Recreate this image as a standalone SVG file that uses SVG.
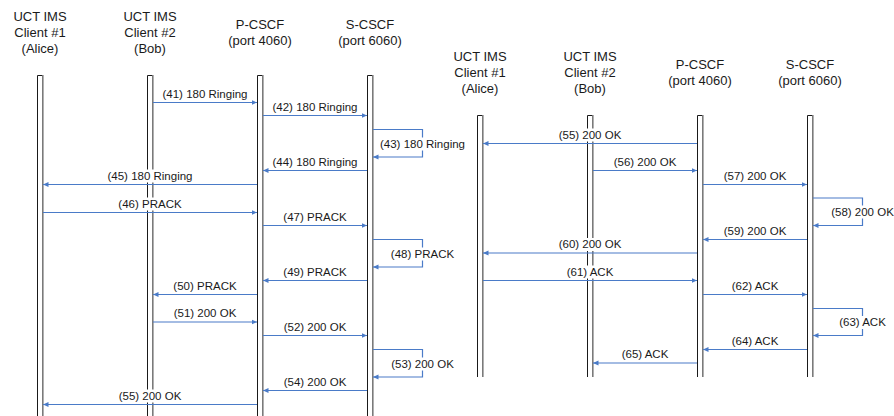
<svg xmlns="http://www.w3.org/2000/svg" width="894" height="416" viewBox="0 0 894 416">
<style>
.hdr{font-family:"Liberation Sans",Arial,sans-serif;font-size:13px;fill:#1a1a1a;text-anchor:middle}
.lbl{font-family:"Liberation Sans",Arial,sans-serif;font-size:11.5px;fill:#1a1a1a;text-anchor:middle}
.lb{fill:#fff;stroke:none}
.bar{fill:#fff;stroke:none}
.edgeL{fill:none;stroke:#1a1a1a;stroke-width:1}
.edgeR{fill:none;stroke:#7a7a7a;stroke-width:1.6}
.msg{fill:none;stroke:#4a7bc8;stroke-width:1.2;marker-end:url(#ah)}
</style>
<defs>
<marker id="ah" markerUnits="userSpaceOnUse" markerWidth="7" markerHeight="7" refX="5.5" refY="3" orient="auto">
<path d="M0,0.6 L5.5,3 L0,5.4 z" fill="#4a7bc8"/>
</marker>
</defs>
<rect width="894" height="416" fill="#fff"/>

<!-- Left diagram lifelines -->
<g id="L-alice">
<text class="hdr" x="40" y="21">UCT IMS</text>
<text class="hdr" x="40" y="37">Client #1</text>
<text class="hdr" x="40" y="53">(Alice)</text>
<rect class="bar" x="37.5" y="75.5" width="5.5" height="345"/>
<path class="edgeL" d="M37.5,420 V75.5 H42.8"/>
<line class="edgeR" x1="42.8" y1="75" x2="42.8" y2="420"/>
</g>
<g id="L-bob">
<text class="hdr" x="150" y="21">UCT IMS</text>
<text class="hdr" x="150" y="37">Client #2</text>
<text class="hdr" x="150" y="53">(Bob)</text>
<rect class="bar" x="147.5" y="75.5" width="5.5" height="345"/>
<path class="edgeL" d="M147.5,420 V75.5 H152.8"/>
<line class="edgeR" x1="152.8" y1="75" x2="152.8" y2="420"/>
</g>
<g id="L-pcscf">
<text class="hdr" x="260" y="29">P-CSCF</text>
<text class="hdr" x="260" y="45">(port 4060)</text>
<rect class="bar" x="257.5" y="75.5" width="5.5" height="345"/>
<path class="edgeL" d="M257.5,420 V75.5 H262.8"/>
<line class="edgeR" x1="262.8" y1="75" x2="262.8" y2="420"/>
</g>
<g id="L-scscf">
<text class="hdr" x="370" y="29">S-CSCF</text>
<text class="hdr" x="370" y="45">(port 6060)</text>
<rect class="bar" x="367.5" y="75.5" width="5.5" height="345"/>
<path class="edgeL" d="M367.5,420 V75.5 H372.8"/>
<line class="edgeR" x1="372.8" y1="75" x2="372.8" y2="420"/>
</g>

<!-- Right diagram lifelines -->
<g id="R-alice">
<text class="hdr" x="480" y="61">UCT IMS</text>
<text class="hdr" x="480" y="77">Client #1</text>
<text class="hdr" x="480" y="93">(Alice)</text>
<rect class="bar" x="477.5" y="115.5" width="5.5" height="261.5"/>
<path class="edgeL" d="M477.5,377 V115.5 H482.8"/>
<line class="edgeR" x1="482.8" y1="115" x2="482.8" y2="377"/>
</g>
<g id="R-bob">
<text class="hdr" x="590" y="61">UCT IMS</text>
<text class="hdr" x="590" y="77">Client #2</text>
<text class="hdr" x="590" y="93">(Bob)</text>
<rect class="bar" x="587.5" y="115.5" width="5.5" height="261.5"/>
<path class="edgeL" d="M587.5,377 V115.5 H592.8"/>
<line class="edgeR" x1="592.8" y1="115" x2="592.8" y2="377"/>
</g>
<g id="R-pcscf">
<text class="hdr" x="700" y="69">P-CSCF</text>
<text class="hdr" x="700" y="85">(port 4060)</text>
<rect class="bar" x="697.5" y="115.5" width="5.5" height="261.5"/>
<path class="edgeL" d="M697.5,377 V115.5 H702.8"/>
<line class="edgeR" x1="702.8" y1="115" x2="702.8" y2="377"/>
</g>
<g id="R-scscf">
<text class="hdr" x="810" y="69">S-CSCF</text>
<text class="hdr" x="810" y="85">(port 6060)</text>
<rect class="bar" x="807.5" y="115.5" width="5.5" height="261.5"/>
<path class="edgeL" d="M807.5,377 V115.5 H812.8"/>
<line class="edgeR" x1="812.8" y1="115" x2="812.8" y2="377"/>
</g>

<!-- Connectors -->
<g id="connectors">
<path class="msg" d="M153,102.5 H257"/>
<path class="msg" d="M263,115.5 H367"/>
<path class="msg" d="M373,129.5 H422.5 V157 H373"/>
<path class="msg" d="M367,170.5 H263"/>
<path class="msg" d="M257,184.5 H43"/>
<path class="msg" d="M43,212.5 H257"/>
<path class="msg" d="M263,225.5 H367"/>
<path class="msg" d="M373,239.5 H422.5 V267 H373"/>
<path class="msg" d="M367,280.5 H263"/>
<path class="msg" d="M257,294.5 H153"/>
<path class="msg" d="M153,322 H257"/>
<path class="msg" d="M263,335.5 H367"/>
<path class="msg" d="M373,349.5 H422.5 V377 H373"/>
<path class="msg" d="M367,390.5 H263"/>
<path class="msg" d="M257,404.5 H43"/>

<path class="msg" d="M697,143.5 H483"/>
<path class="msg" d="M593,170.5 H697"/>
<path class="msg" d="M703,184.5 H807"/>
<path class="msg" d="M813,198 H862.5 V225.5 H813"/>
<path class="msg" d="M807,239.5 H703"/>
<path class="msg" d="M697,253 H483"/>
<path class="msg" d="M483,280.5 H697"/>
<path class="msg" d="M703,294.5 H807"/>
<path class="msg" d="M813,308.5 H862.5 V335.5 H813"/>
<path class="msg" d="M807,349.5 H703"/>
<path class="msg" d="M697,363 H593"/>
</g>

<!-- Labels -->
<g id="labels">
<rect class="lb" x="161.5" y="87.5" width="87" height="13"/><text class="lbl" x="205" y="97.5">(41) 180 Ringing</text>
<rect class="lb" x="271.5" y="100.5" width="87" height="13"/><text class="lbl" x="315" y="110.5">(42) 180 Ringing</text>
<rect class="lb" x="379" y="137.5" width="87" height="13"/><text class="lbl" x="422.5" y="147.5">(43) 180 Ringing</text>
<rect class="lb" x="271.5" y="155.5" width="87" height="13"/><text class="lbl" x="315" y="165.5">(44) 180 Ringing</text>
<rect class="lb" x="106.5" y="169.5" width="87" height="13"/><text class="lbl" x="150" y="179.5">(45) 180 Ringing</text>
<rect class="lb" x="117.35" y="197.5" width="65.3" height="13"/><text class="lbl" x="150" y="207.5">(46) PRACK</text>
<rect class="lb" x="282.35" y="210.5" width="65.3" height="13"/><text class="lbl" x="315" y="220.5">(47) PRACK</text>
<rect class="lb" x="389.85" y="247.5" width="65.3" height="13"/><text class="lbl" x="422.5" y="257.5">(48) PRACK</text>
<rect class="lb" x="282.35" y="265.5" width="65.3" height="13"/><text class="lbl" x="315" y="275.5">(49) PRACK</text>
<rect class="lb" x="172.35" y="279.5" width="65.3" height="13"/><text class="lbl" x="205" y="289.5">(50) PRACK</text>
<rect class="lb" x="172.7" y="307" width="64.6" height="13"/><text class="lbl" x="205" y="317">(51) 200 OK</text>
<rect class="lb" x="282.7" y="320.5" width="64.6" height="13"/><text class="lbl" x="315" y="330.5">(52) 200 OK</text>
<rect class="lb" x="390.2" y="357.5" width="64.6" height="13"/><text class="lbl" x="422.5" y="367.5">(53) 200 OK</text>
<rect class="lb" x="282.7" y="375.5" width="64.6" height="13"/><text class="lbl" x="315" y="385.5">(54) 200 OK</text>
<rect class="lb" x="117.7" y="389.5" width="64.6" height="13"/><text class="lbl" x="150" y="399.5">(55) 200 OK</text>

<rect class="lb" x="557.7" y="128.5" width="64.6" height="13"/><text class="lbl" x="590" y="138.5">(55) 200 OK</text>
<rect class="lb" x="612.7" y="155.5" width="64.6" height="13"/><text class="lbl" x="645" y="165.5">(56) 200 OK</text>
<rect class="lb" x="722.7" y="169.5" width="64.6" height="13"/><text class="lbl" x="755" y="179.5">(57) 200 OK</text>
<rect class="lb" x="830.2" y="205.5" width="64.6" height="13"/><text class="lbl" x="862.5" y="215.5">(58) 200 OK</text>
<rect class="lb" x="722.7" y="224.5" width="64.6" height="13"/><text class="lbl" x="755" y="234.5">(59) 200 OK</text>
<rect class="lb" x="557.7" y="238" width="64.6" height="13"/><text class="lbl" x="590" y="248">(60) 200 OK</text>
<rect class="lb" x="565.35" y="265.5" width="49.3" height="13"/><text class="lbl" x="590" y="275.5">(61) ACK</text>
<rect class="lb" x="730.35" y="279.5" width="49.3" height="13"/><text class="lbl" x="755" y="289.5">(62) ACK</text>
<rect class="lb" x="837.85" y="316" width="49.3" height="13"/><text class="lbl" x="862.5" y="326">(63) ACK</text>
<rect class="lb" x="730.35" y="334.5" width="49.3" height="13"/><text class="lbl" x="755" y="344.5">(64) ACK</text>
<rect class="lb" x="620.35" y="348" width="49.3" height="13"/><text class="lbl" x="645" y="358">(65) ACK</text>
</g>
</svg>
